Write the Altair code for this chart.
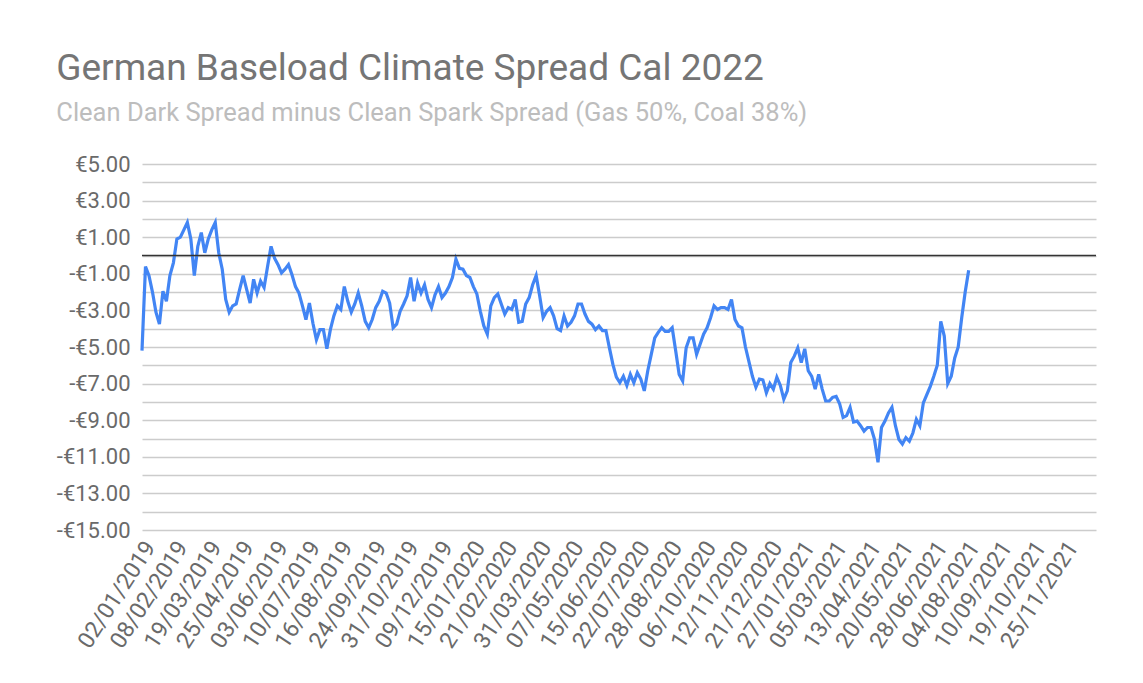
import altair as alt
import pandas as pd

values = [
    -5.2, -0.6, -1.1, -2.0, -3.1, -3.75, -1.95, -2.5, -1.1, -0.4,
    0.9, 1.0, 1.4, 1.8, 0.9, -1.1, 0.5, 1.25, 0.15, 0.9,
    1.4, 1.8, 0.15, -0.75, -2.4, -3.1, -2.75, -2.65, -1.85, -1.1,
    -1.85, -2.6, -1.3, -2.05, -1.4, -1.75, -0.6, 0.5, -0.15, -0.5,
    -0.95, -0.75, -0.5, -1.05, -1.7, -2.05, -2.75, -3.5, -2.6, -3.7,
    -4.6, -4.05, -4.05, -5.1, -4.05, -3.3, -2.75, -2.95, -1.7, -2.5,
    -3.1, -2.65, -2.05, -2.75, -3.6, -3.95, -3.5, -2.85, -2.5, -1.95,
    -2.05, -2.6, -3.95, -3.75, -3.05, -2.65, -2.2, -1.2, -2.5, -1.5,
    -2.05, -1.6, -2.4, -2.85, -2.15, -1.7, -2.3, -2.05, -1.7, -1.2,
    -0.2, -0.7, -0.75, -1.1, -1.2, -1.7, -2.1, -3.05, -3.85, -4.3,
    -2.75, -2.3, -2.1, -2.65, -3.2, -2.85, -2.95, -2.4, -3.65, -3.6,
    -2.65, -2.3, -1.6, -1.1, -2.2, -3.4, -3.05, -2.85, -3.3, -4.0,
    -4.1, -3.3, -3.85, -3.65, -3.3, -2.65, -2.65, -3.2, -3.6, -3.75,
    -4.05, -3.85, -4.1, -4.1, -5.05, -5.95, -6.65, -6.95, -6.6, -7.1,
    -6.5, -6.95, -6.4, -6.75, -7.4, -6.3, -5.4, -4.5, -4.2, -3.95,
    -4.15, -4.15, -3.95, -5.2, -6.5, -6.85, -5.05, -4.5, -4.5, -5.4,
    -4.85, -4.3, -3.95, -3.4, -2.75, -2.95, -2.85, -2.85, -2.95, -2.4,
    -3.5, -3.85, -3.95, -5.0, -5.8, -6.6, -7.2, -6.75, -6.8, -7.5,
    -7.0, -7.3, -6.65, -7.1, -7.85, -7.4, -5.85, -5.5, -5.05, -5.85,
    -5.1, -6.3, -6.6, -7.3, -6.5, -7.3, -7.95, -7.95, -7.75, -7.7,
    -8.1, -8.85, -8.75, -8.3, -9.1, -9.05, -9.3, -9.6, -9.4, -9.4,
    -10.05, -11.3, -9.4, -9.05, -8.6, -8.3, -9.3, -10.05, -10.3, -9.95,
    -10.15, -9.7, -8.95, -9.3, -8.05, -7.6, -7.15, -6.6, -6.0, -3.6,
    -4.4, -7.0, -6.6, -5.6, -5.0, -3.4, -2.0, -0.8,
]
start_date = "2019-01-02"
step = "4D"

tick_labels = [
    "02/01/2019", "08/02/2019", "19/03/2019", "25/04/2019", "03/06/2019",
    "10/07/2019", "16/08/2019", "24/09/2019", "31/10/2019", "09/12/2019",
    "15/01/2020", "21/02/2020", "31/03/2020", "07/05/2020", "15/06/2020",
    "22/07/2020", "28/08/2020", "06/10/2020", "12/11/2020", "21/12/2020",
    "27/01/2021", "05/03/2021", "13/04/2021", "20/05/2021", "28/06/2021",
    "04/08/2021", "10/09/2021", "19/10/2021", "25/11/2021",
]
x_start = (2019, 1, 2)
x_end = (2021, 12, 31)
y_ticks = list(range(-15, 6))

df = pd.DataFrame({
    "date": pd.date_range(start_date, periods=len(values), freq=step),
    "value": values,
})
zero_df = pd.DataFrame({"y": [0]})


def dt(day, month, year):
    return alt.DateTime(year=year, month=month, date=day)


tick_values = []
for s in tick_labels:
    d, m, y = (int(p) for p in s.split("/"))
    tick_values.append(dt(d, m, y))

FONT = "Roboto"
LABEL_COLOR = "#6a6a6a"

x_enc = alt.X(
    "date:T",
    scale=alt.Scale(domain=[dt(x_start[2], x_start[1], x_start[0]),
                            dt(x_end[2], x_end[1], x_end[0])]),
    axis=alt.Axis(
        values=tick_values,
        format="%d/%m/%Y",
        labelAngle=-57,
        labelAlign="right",
        labelBaseline="middle",
        labelFontSize=23,
        labelFont=FONT,
        labelColor=LABEL_COLOR,
        labelOverlap=False,
        labelPadding=13,
        labelOffset=8,
        grid=False,
        domain=False,
        ticks=False,
        title=None,
    ),
)

y_enc = alt.Y(
    "value:Q",
    scale=alt.Scale(domain=[-15, 5], nice=False, zero=False),
    axis=alt.Axis(
        values=y_ticks,
        tickCount=len(y_ticks) + 5,
        labelExpr="abs(datum.value) % 2 == 1 ? ((datum.value < 0 ? '-€' : '€') + format(abs(datum.value), '.2f')) : ''",
        labelFontSize=22,
        labelFont=FONT,
        labelColor=LABEL_COLOR,
        labelPadding=12,
        labelOverlap=False,
        labelFlush=False,
        grid=True,
        gridColor="#cccccc",
        gridWidth=1.5,
        domain=False,
        ticks=False,
        title=None,
    ),
)

zero_rule = alt.Chart(zero_df).mark_rule(color="#333333", strokeWidth=1.5).encode(
    y=alt.Y("y:Q", title=None)
)

line = alt.Chart(df).mark_line(color="#4285F4", strokeWidth=3.2).encode(
    x=x_enc,
    y=y_enc,
)

chart = (
    alt.layer(line, zero_rule)
    .properties(
        width=954,
        height=366,
        autosize=alt.AutoSizeParams(type="none"),
        padding={"left": 134, "top": 156, "right": 30, "bottom": 145},
        title=alt.TitleParams(
            "German Baseload Climate Spread Cal 2022",
            subtitle="Clean Dark Spread minus Clean Spark Spread (Gas 50%, Coal 38%)",
            anchor="start",
            frame="bounds",
            font=FONT,
            fontSize=37,
            fontWeight="normal",
            color="#757575",
            subtitleFont=FONT,
            subtitleFontSize=25.5,
            subtitleColor="#bdbdbd",
            subtitlePadding=13,
            offset=26,
        ),
        background="white",
    )
    .configure_view(stroke=None)
)

chart.save("out.html", embed_options={"renderer": "svg", "actions": False})
